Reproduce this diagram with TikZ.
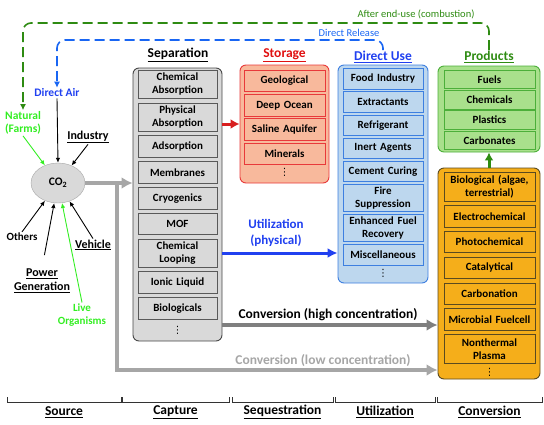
\documentclass[tikz,border=0pt]{standalone}
\usepackage{fontspec}
\setmainfont{Carlito}
\newfontfamily\symfont{DejaVu Sans}
\usetikzlibrary{positioning,arrows.meta,shapes.geometric}
\definecolor{sepfill}{HTML}{D9D9D9}
\definecolor{sepline}{HTML}{595959}
\definecolor{storfill}{HTML}{F8B99C}
\definecolor{storline}{HTML}{E8393A}
\definecolor{stortext}{HTML}{E01010}
\definecolor{storarrow}{HTML}{D81E1E}
\definecolor{dufill}{HTML}{BDD7EE}
\definecolor{duline}{HTML}{3D7FE0}
\definecolor{dutext}{HTML}{2040F0}
\definecolor{prodfill}{HTML}{A9E08C}
\definecolor{prodline}{HTML}{4CAF3A}
\definecolor{prodtext}{HTML}{2E8B12}
\definecolor{convfill}{HTML}{F5AE1A}
\definecolor{convline}{HTML}{5A4A20}
\definecolor{livegreen}{HTML}{33EE22}
\definecolor{lowgray}{HTML}{A6A6A6}
\definecolor{highgray}{HTML}{7F7F7F}
\tikzset{>=Latex}

\begin{document}
\begin{tikzpicture}[x=1pt, y=-1pt]
  % group = rounded outer box, item = entry inside a group
  \tikzset{
    every node/.style={font=\bfseries\fontsize{11}{13}\selectfont, inner sep=1pt},
    group/.style={draw, rounded corners=6pt, line width=0.9pt},
    item/.style={draw, line width=0.8pt, align=center, minimum height=21.5pt},
    item2/.style={minimum height=28.5pt},
    title/.style={font=\bfseries\fontsize{13.5}{15}\selectfont},
    label/.style={font=\bfseries\fontsize{11.5}{13.5}\selectfont, align=center},
    flowtext/.style={font=\bfseries\fontsize{13.5}{15}\selectfont, align=center},
    dots/.style={font=\symfont\fontsize{10}{10}\selectfont, inner sep=0pt},
    sepitem/.style={item, fill=sepfill, draw=sepline, text width=77pt},
    storitem/.style={item, fill=storfill, draw=storline, text width=79pt},
    duitem/.style={item, fill=dufill, draw=duline, text width=78pt, minimum height=20.5pt},
    du2/.style={minimum height=27.5pt},
    proditem/.style={item, fill=prodfill, draw=prodline, text width=89pt, minimum height=18.5pt},
    convitem/.style={item, fill=convfill, draw=convline, text width=89pt},
    srcarrow/.style={->, line width=0.9pt, >={Latex[length=5pt, width=4.5pt]}},
    flow/.style={->, line width=#1},
    dashline/.style={->, line width=1.6pt, dash pattern=on 10pt off 5pt, rounded corners=8pt,
      >={Latex[length=6pt, width=6pt]}},
    bracket/.style={draw=black!80, line width=0.8pt}
  }
  \useasboundingbox (0,0) rectangle (544,424);

  % outer boxes
  \node[group, fill=sepfill, draw=sepline!80!black, minimum width=89, minimum height=273] (sepbox) at (177.5,204.5) {};
  \node[group, fill=storfill, draw=storline, minimum width=89, minimum height=118] (storbox) at (284.5,124) {};
  \node[group, fill=dufill, draw=duline, minimum width=90, minimum height=218] (dubox) at (383,174) {};
  \node[group, fill=prodfill, draw=prodline, minimum width=102, minimum height=86] (prodbox) at (489,109) {};
  \node[group, fill=convfill, draw=convline, minimum width=102, minimum height=211] (convbox) at (489,273.5) {};

  % separation
  \node[title] (sept) at (178,55) {\underline{Separation}};
  \node[sepitem, item2] (chemabs) at (177.5,84.5) {Chemical\\Absorption};
  \node[sepitem, item2, below=3.5pt of chemabs] (physabs) {Physical\\Absorption};
  \node[sepitem, below=3.5pt of physabs] (adsorp) {Adsorption};
  \node[sepitem, below=3.5pt of adsorp] (membr) {Membranes};
  \node[sepitem, below=3.5pt of membr] (cryo) {Cryogenics};
  \node[sepitem, below=3.5pt of cryo] (mof) {MOF};
  \node[sepitem, item2, below=3.5pt of mof] (chemloop) {Chemical\\Looping};
  \node[sepitem, below=3.5pt of chemloop] (ionic) {Ionic Liquid};
  \node[sepitem, below=3.5pt of ionic] (biol) {Biologicals};
  \node[dots] (sepdots) at (177.5,330) {⋮};

  % storage
  \node[title, text=stortext] (stort) at (284.5,55) {\underline{Storage}};
  \node[storitem] (geo) at (284.5,81) {Geological};
  \node[storitem, below=2pt of geo] (ocean) {Deep Ocean};
  \node[storitem, below=2pt of ocean] (saline) {Saline Aquifer};
  \node[storitem, below=2pt of saline] (miner) {Minerals};
  \node[dots] (stordots) at (284.5,172) {⋮};

  % direct use
  \node[title, text=dutext] (dut) at (383,57) {\underline{Direct Use}};
  \node[duitem] (food) at (383,79) {Food Industry};
  \node[duitem, below=1.8pt of food] (extr) {Extractants};
  \node[duitem, below=1.8pt of extr] (refr) {Refrigerant};
  \node[duitem, below=1.8pt of refr] (inert) {Inert Agents};
  \node[duitem, below=1.8pt of inert] (cement) {Cement Curing};
  \node[duitem, du2, below=1.8pt of cement] (fire) {Fire\\Suppression};
  \node[duitem, du2, below=1.8pt of fire] (fuelrec) {Enhanced Fuel\\Recovery};
  \node[duitem, below=1.8pt of fuelrec] (misc) {Miscellaneous};
  \node[dots] (dudots) at (383,273) {⋮};

  % products
  \node[title, text=prodtext] (prodt) at (489,57) {\underline{Products}};
  \node[proditem] (fuels) at (489.5,79.5) {Fuels};
  \node[proditem, below=1pt of fuels] (chems) {Chemicals};
  \node[proditem, below=1pt of chems] (plast) {Plastics};
  \node[proditem, below=1pt of plast] (carbo) {Carbonates};

  % conversion
  \node[convitem, item2] (bio) at (489.5,187) {Biological (algae,\\terrestrial)};
  \node[convitem, below=3.5pt of bio] (electro) {Electrochemical};
  \node[convitem, below=3.5pt of electro] (photo) {Photochemical};
  \node[convitem, below=3.5pt of photo] (cata) {Catalytical};
  \node[convitem, below=3.5pt of cata] (carbon) {Carbonation};
  \node[convitem, below=3.5pt of carbon] (microb) {Microbial Fuelcell};
  \node[convitem, item2, below=3.5pt of microb] (plasma) {Nonthermal\\Plasma};
  \node[dots] (convdots) at (489.5,372) {⋮};

  % sources
  \node[fill=sepfill, draw=black!35, ellipse, minimum width=54, minimum height=40,
        font=\bfseries\fontsize{11.5}{13}\selectfont] (co2) at (58,183) {CO\textsubscript{2}};
  \node[label, text=dutext] (dair) at (57,93) {Direct Air};
  \node[label, text=livegreen] (natural) at (23,123) {Natural\\(Farms)};
  \node[label, font=\bfseries\fontsize{12}{14}\selectfont] (industry) at (88,137) {\underline{Industry}};
  \node[label, font=\bfseries\fontsize{11}{13}\selectfont] (others) at (22,237) {Others};
  \node[label, font=\bfseries\fontsize{12}{14}\selectfont] (powgen) at (42,281) {\underline{Power}\\\underline{Generation}};
  \node[label, text=livegreen, font=\bfseries\fontsize{11}{13}\selectfont] (liveorg) at (82,315) {Live\\Organisms};
  \node[label, font=\bfseries\fontsize{12}{14}\selectfont] (vehicle) at (93,245) {\underline{Vehicle}};

  \draw[srcarrow] (dair.south) -- (co2.north);
  \draw[srcarrow, livegreen] (natural.south) -- (co2);
  \draw[srcarrow] (industry.south) -- (co2);
  \draw[srcarrow] (others.north) -- (co2);
  \draw[srcarrow, shorten <=13pt] (powgen.north) -- (co2);
  \draw[srcarrow, livegreen] (liveorg.north) -- (co2);
  \draw[srcarrow] (vehicle.north) -- (co2);

  % flows
  \coordinate (split) at (117,183);
  \coordinate (utily) at (0,253);
  \coordinate (highy) at (0,325);
  \coordinate (lowy) at (0,370);
  \draw[flow=4pt, lowgray, >={Latex[length=11pt, width=12pt]}] (co2.east) -- (co2 -| sepbox.west);
  \draw[flow=4pt, lowgray, >={Latex[length=11pt, width=12pt]}] (split) |- (lowy -| convbox.west);
  \draw[flow=3pt, storarrow, >={Latex[length=9pt, width=10pt]}] (sepbox.east |- storbox.west) -- (storbox.west);
  \draw[flow=3pt, dutext, >={Latex[length=10pt, width=10pt]}] (utily -| sepbox.east) -- (utily -| dubox.west);
  \draw[flow=4pt, highgray, >={Latex[length=11pt, width=12pt]}] (highy -| sepbox.east) -- (highy -| convbox.west);
  \draw[flow=3pt, prodtext, >={Latex[length=8pt, width=9pt]}] (convbox.north) -- (prodbox.south);
  \node[flowtext, text=dutext, font=\bfseries\fontsize{13}{16}\selectfont] (utilt) at (276,233) {Utilization\\(physical)};
  \node[flowtext] (hight) at (328,315) {Conversion (high concentration)};
  \node[flowtext, text=lowgray] (lowt) at (323,361) {Conversion (low concentration)};

  % release loops
  \coordinate (gtop) at (23,23);
  \coordinate (btop) at (57,40);
  \draw[dashline, prodtext] (prodt.north) |- (gtop) -- (natural.north);
  \draw[dashline, dutext!80!cyan] (dut.north) |- (btop) -- (dair.north);
  \node[font=\fontsize{10.5}{12}\selectfont, text=prodtext] (aftert) at (416,14) {After end-use (combustion)};
  \node[font=\fontsize{10.5}{12}\selectfont, text=dutext!80!cyan] (releaset) at (349,33) {Direct Release};

  % stages
  \foreach \a/\b/\t in {7/121/Source, 122/229/Capture, 232/333/Sequestration, 335/435/Utilization, 437/542/Conversion} {
    \draw[bracket] (\a,397) |- (\b,402) -- (\b,397);
    \node[title] (stage-\t) at ({(\a+\b)/2},412) {\underline{\t}};
  }
\end{tikzpicture}
\end{document}
